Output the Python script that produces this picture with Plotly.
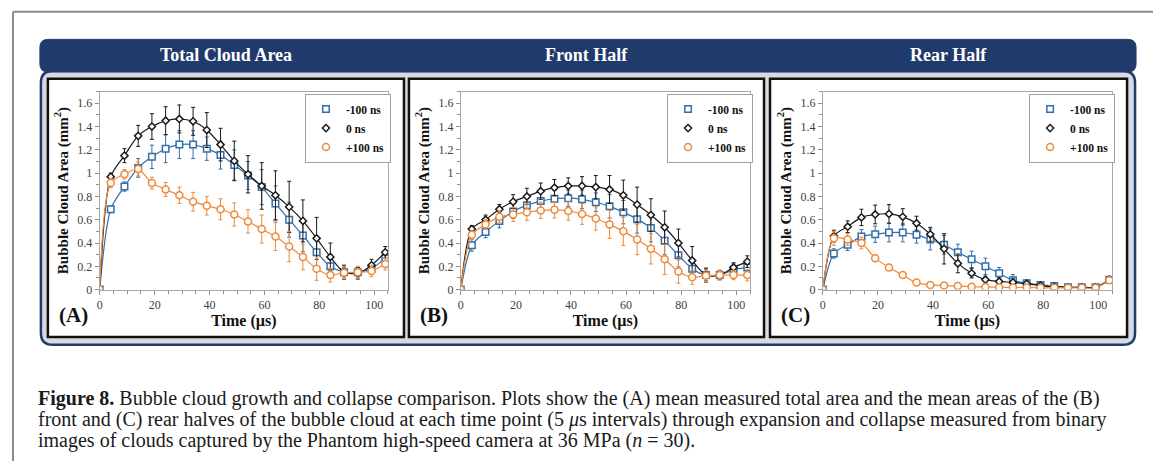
import plotly.graph_objects as go

W, H = 1153, 468

# ---------------- data ----------------
time_us = [0, 4, 9, 14, 19, 24, 29, 34, 39, 44, 49, 54, 59, 64, 69, 74, 79, 84, 89, 94, 99, 104]
series_names = ["-100 ns", "0 ns", "+100 ns"]
panel_titles = ["Total Cloud Area", "Front Half", "Rear Half"]
panel_labels = ["(A)", "(B)", "(C)"]

# Panel A: total cloud area
a_m100 = [0, 0.69, 0.885, 1.045, 1.14, 1.21, 1.245, 1.245, 1.21, 1.155, 1.07, 0.98, 0.88, 0.74, 0.60, 0.465, 0.32, 0.20, 0.15, 0.15, 0.18, 0.27]
a_0 = [0, 0.97, 1.15, 1.32, 1.40, 1.45, 1.465, 1.445, 1.37, 1.245, 1.105, 0.99, 0.89, 0.81, 0.71, 0.59, 0.44, 0.28, 0.15, 0.14, 0.21, 0.32]
a_p100 = [0, 0.915, 0.99, 1.035, 0.915, 0.86, 0.81, 0.755, 0.72, 0.69, 0.645, 0.585, 0.52, 0.455, 0.37, 0.28, 0.18, 0.125, 0.145, 0.15, 0.16, 0.22]
a_m100_err = [0, 0.03, 0.04, 0.08, 0.10, 0.12, 0.12, 0.12, 0.10, 0.12, 0.13, 0.12, 0.15, 0.15, 0.15, 0.14, 0.12, 0.06, 0.04, 0.04, 0.04, 0.04]
a_0_err = [0, 0.03, 0.06, 0.09, 0.11, 0.12, 0.12, 0.12, 0.15, 0.14, 0.17, 0.16, 0.20, 0.21, 0.22, 0.18, 0.18, 0.12, 0.06, 0.05, 0.05, 0.05]
a_p100_err = [0, 0.04, 0.04, 0.06, 0.05, 0.06, 0.07, 0.08, 0.08, 0.09, 0.10, 0.10, 0.12, 0.12, 0.13, 0.11, 0.10, 0.06, 0.05, 0.05, 0.05, 0.05]

# Panel B: front half
b_m100 = [0, 0.38, 0.495, 0.59, 0.67, 0.725, 0.76, 0.78, 0.785, 0.775, 0.75, 0.715, 0.665, 0.605, 0.53, 0.42, 0.295, 0.18, 0.125, 0.125, 0.17, 0.19]
b_0 = [0, 0.52, 0.60, 0.69, 0.755, 0.80, 0.845, 0.875, 0.89, 0.89, 0.88, 0.86, 0.81, 0.73, 0.64, 0.535, 0.40, 0.25, 0.125, 0.125, 0.19, 0.24]
b_p100 = [0, 0.47, 0.56, 0.625, 0.645, 0.665, 0.68, 0.685, 0.675, 0.65, 0.61, 0.56, 0.50, 0.43, 0.35, 0.26, 0.155, 0.105, 0.12, 0.125, 0.125, 0.125]
b_m100_err = [0, 0.05, 0.05, 0.06, 0.06, 0.07, 0.07, 0.07, 0.07, 0.08, 0.08, 0.10, 0.10, 0.12, 0.12, 0.12, 0.10, 0.07, 0.05, 0.04, 0.05, 0.05]
b_0_err = [0, 0.03, 0.04, 0.04, 0.06, 0.07, 0.07, 0.07, 0.07, 0.08, 0.10, 0.12, 0.13, 0.15, 0.14, 0.14, 0.12, 0.12, 0.06, 0.04, 0.04, 0.05]
b_p100_err = [0, 0.04, 0.04, 0.05, 0.06, 0.07, 0.07, 0.07, 0.08, 0.09, 0.10, 0.12, 0.12, 0.13, 0.13, 0.13, 0.10, 0.06, 0.05, 0.04, 0.04, 0.05]

# Panel C: rear half
c_m100 = [0, 0.31, 0.385, 0.455, 0.475, 0.49, 0.49, 0.47, 0.43, 0.385, 0.32, 0.26, 0.20, 0.14, 0.08, 0.055, 0.04, 0.03, 0.02, 0.02, 0.02, 0.085]
c_0 = [0, 0.46, 0.54, 0.62, 0.645, 0.65, 0.625, 0.57, 0.475, 0.35, 0.225, 0.14, 0.085, 0.07, 0.062, 0.05, 0.035, 0.025, 0.02, 0.02, 0.02, 0.085]
c_p100 = [0, 0.44, 0.43, 0.40, 0.27, 0.19, 0.125, 0.06, 0.04, 0.035, 0.03, 0.025, 0.022, 0.02, 0.018, 0.018, 0.015, 0.015, 0.015, 0.015, 0.015, 0.08]
c_m100_err = [0, 0.04, 0.05, 0.06, 0.07, 0.08, 0.08, 0.07, 0.09, 0.08, 0.07, 0.07, 0.07, 0.05, 0.05, 0.03, 0.02, 0.01, 0.01, 0.01, 0.01, 0.02]
c_0_err = [0, 0.05, 0.05, 0.07, 0.08, 0.08, 0.07, 0.06, 0.06, 0.13, 0.08, 0.04, 0.03, 0.03, 0.03, 0.02, 0.02, 0.01, 0.01, 0.01, 0.01, 0.02]
c_p100_err = [0, 0.06, 0.05, 0.05, 0.03, 0.02, 0.02, 0.02, 0.01, 0.01, 0.01, 0.01, 0.01, 0.01, 0.01, 0.01, 0.01, 0.01, 0.01, 0.01, 0.01, 0.02]

x_ticks = [0, 20, 40, 60, 80, 100]
y_ticks = [0, 0.2, 0.4, 0.6, 0.8, 1.0, 1.2, 1.4, 1.6]
y_tick_labels = ["0", "0.2", "0.4", "0.6", "0.8", "1", "1.2", "1.4", "1.6"]

caption_lines = [
    "<b>Figure 8.</b> Bubble cloud growth and collapse comparison. Plots show the (A) mean measured total area and the mean areas of the (B)",
    "front and (C) rear halves of the bubble cloud at each time point (5 <i>μ</i>s intervals) through expansion and collapse measured from binary",
    "images of clouds captured by the Phantom high-speed camera at 36 MPa (<i>n</i> = 30).",
]

# ---------------- styles ----------------
SERIF = "Liberation Serif, Times New Roman, serif"
NAVY = "#203a6b"
COLORS = ["#336ea8", "#1a1a1a", "#ee8a3a"]
SYMBOLS = ["square", "diamond", "circle"]
SIZES = [6.5, 5.5, 7]

panels = [
    ([a_m100, a_0, a_p100], [a_m100_err, a_0_err, a_p100_err]),
    ([b_m100, b_0, b_p100], [b_m100_err, b_0_err, b_p100_err]),
    ([c_m100, c_0, c_p100], [c_m100_err, c_0_err, c_p100_err]),
]

# pixel layout
plot_x = [(97, 386), (459, 749), (822, 1112)]
plot_y = (93, 294)
panel_box = [(45, 402), (407, 763), (769, 1127)]
panel_top, panel_bot = 80, 342


def px(x):
    return x / W


def py(y):
    return (H - y) / H


fig = go.Figure()

for i, (vals, errs) in enumerate(panels):
    xa = "x" if i == 0 else f"x{i+1}"
    ya = "y" if i == 0 else f"y{i+1}"
    for s in range(3):
        fig.add_trace(go.Scatter(
            x=time_us, y=vals[s], xaxis=xa, yaxis=ya,
            mode="lines+markers",
            line=dict(color=COLORS[s], width=1.2, shape="spline", smoothing=0.8),
            marker=dict(symbol=SYMBOLS[s], size=SIZES[s], color="white",
                        line=dict(color=COLORS[s], width=1.5)),
            error_y=dict(type="data", array=errs[s], visible=True,
                         color=COLORS[s], thickness=1, width=2),
            showlegend=False, name=series_names[s],
        ))
    legend_id = "legend" if i == 0 else f"legend{i+1}"
    for s in range(3):
        fig.add_trace(go.Scatter(
            x=[None], y=[None], xaxis=xa, yaxis=ya, mode="markers",
            marker=dict(symbol=SYMBOLS[s], size=SIZES[s], color="white",
                        line=dict(color=COLORS[s], width=1.5)),
            name=series_names[s], legend=legend_id, showlegend=True,
        ))

layout = dict(
    width=W, height=H,
    margin=dict(l=0, r=0, t=0, b=0),
    paper_bgcolor="white",
    plot_bgcolor="rgba(0,0,0,0)",
    font=dict(family=SERIF, color="#222"),
)

axis_common = dict(
    showgrid=False, zeroline=False, showline=True, mirror=True,
    linecolor="#a8a8a8", linewidth=1,
    ticks="outside", ticklen=4, tickcolor="#909090",
    tickfont=dict(family=SERIF, size=12, color="#404040"),
)

for i in range(3):
    sx = "" if i == 0 else str(i + 1)
    x0, x1 = plot_x[i]
    layout[f"xaxis{sx}"] = dict(
        axis_common, domain=[px(x0), px(x1)], range=[0, 105],
        anchor=f"y{sx}", tickvals=x_ticks,
        minor=dict(dtick=5, tick0=0, ticks="outside", ticklen=3, tickcolor="#909090"),
        title=dict(text="<b>Time (µs)</b>", font=dict(family=SERIF, size=16, color="#111"), standoff=2),
    )
    layout[f"yaxis{sx}"] = dict(
        axis_common, domain=[py(plot_y[1]), py(plot_y[0])], range=[0, 1.7],
        anchor=f"x{sx}", tickvals=y_ticks, ticktext=y_tick_labels,
        minor=dict(dtick=0.1, tick0=0, ticks="outside", ticklen=3, tickcolor="#909090"),
        title=dict(text="<b>Bubble Cloud Area (mm<sup>2</sup>)</b>", font=dict(family=SERIF, size=15, color="#111"), standoff=5),
    )
    lg = "legend" if i == 0 else f"legend{i+1}"
    layout[lg] = dict(
        x=px(plot_x[i][1] + 3), y=py(95), xanchor="right", yanchor="top",
        bgcolor="white", bordercolor="#a0a0a0", borderwidth=1,
        font=dict(family=SERIF, size=11.5, color="#111", weight="bold"),
        itemwidth=30, tracegroupgap=0,
    )

shapes = []
# outer gray frame (open to the right and bottom of the page)
shapes.append(dict(type="line", xref="paper", yref="paper", x0=px(10), x1=px(10),
                   y0=0, y1=py(12), line=dict(color="#8a8a8a", width=2), layer="above"))
shapes.append(dict(type="line", xref="paper", yref="paper", x0=px(10), x1=1,
                   y0=py(12), y1=py(12), line=dict(color="#8a8a8a", width=2), layer="above"))


def rounded(x0, y0, x1, y1, r):
    # pixel coords (y downward) -> paper path
    pts = [
        f"M {px(x0 + r)},{py(y0)}",
        f"L {px(x1 - r)},{py(y0)}",
        f"Q {px(x1)},{py(y0)} {px(x1)},{py(y0 + r)}",
        f"L {px(x1)},{py(y1 - r)}",
        f"Q {px(x1)},{py(y1)} {px(x1 - r)},{py(y1)}",
        f"L {px(x0 + r)},{py(y1)}",
        f"Q {px(x0)},{py(y1)} {px(x0)},{py(y1 - r)}",
        f"L {px(x0)},{py(y0 + r)}",
        f"Q {px(x0)},{py(y0)} {px(x0 + r)},{py(y0)}",
        "Z",
    ]
    return " ".join(pts)


# container
shapes.append(dict(type="path", xref="paper", yref="paper", path=rounded(38, 72, 1135, 350, 12),
                   fillcolor="#d7dbe1", line=dict(color=NAVY, width=2.5), layer="below"))
# header band
shapes.append(dict(type="path", xref="paper", yref="paper", path=rounded(37, 40, 1136, 73, 8),
                   fillcolor=NAVY, line=dict(color=NAVY, width=1), layer="below"))
# panels
for (x0, x1) in panel_box:
    shapes.append(dict(type="rect", xref="paper", yref="paper", x0=px(x0), x1=px(x1),
                       y0=py(panel_bot), y1=py(panel_top),
                       fillcolor="white", line=dict(color="#111", width=2.5), layer="below"))
layout["shapes"] = shapes

annotations = []
for i in range(3):
    x0, x1 = panel_box[i]
    annotations.append(dict(text=f"<b>{panel_titles[i]}</b>", xref="paper", yref="paper",
                            x=px((x0 + x1) / 2), y=py(56), xanchor="center", yanchor="middle",
                            showarrow=False, font=dict(family=SERIF, size=18, color="white")))
    annotations.append(dict(text=f"<b>{panel_labels[i]}</b>", xref="paper", yref="paper",
                            x=px(x0 + 9), y=py(320), xanchor="left", yanchor="middle",
                            showarrow=False, font=dict(family=SERIF, size=21, color="#111")))
for k, line in enumerate(caption_lines):
    annotations.append(dict(text=line, xref="paper", yref="paper",
                            x=px(33), y=py(405 + 21 * k), xanchor="left", yanchor="middle",
                            showarrow=False, align="left",
                            font=dict(family=SERIF, size=20, color="#1a1a1a")))
layout["annotations"] = annotations

fig.update_layout(**layout)
fig.write_html("out.html", config={"displayModeBar": False},
               post_script="document.body.style.margin='0px';")
